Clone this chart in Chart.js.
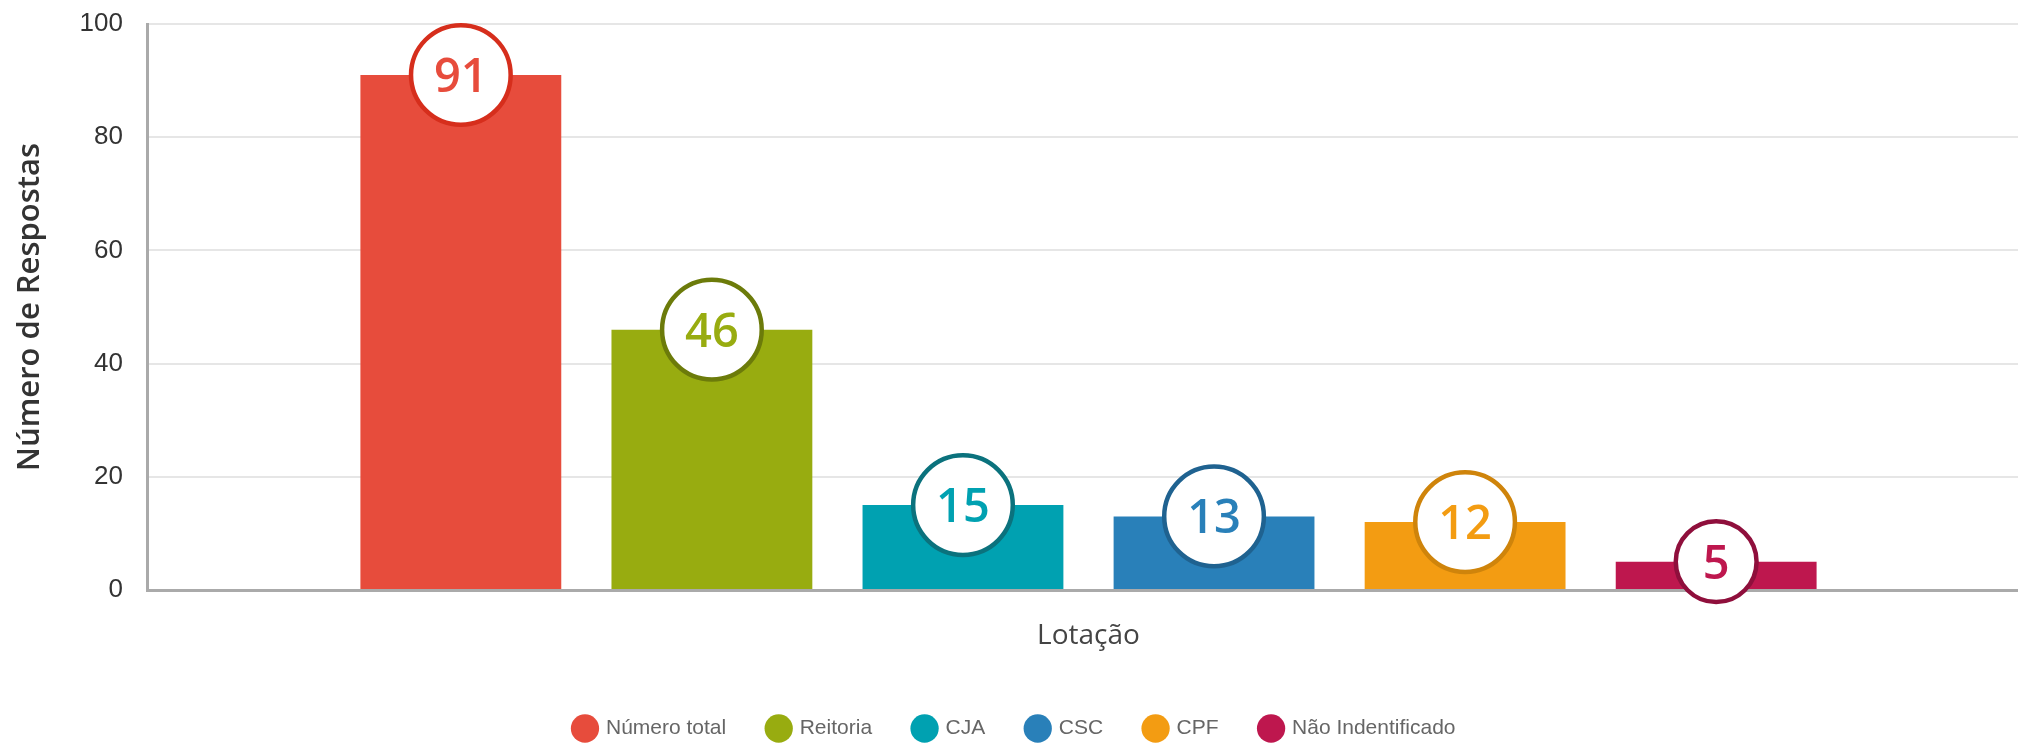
<!DOCTYPE html>
<html lang="pt">
<head>
<meta charset="utf-8">
<title>Número de Respostas por Lotação</title>
<script src="https://cdn.jsdelivr.net/npm/chart.js@4/dist/chart.umd.min.js"></script>
<style>
  html, body { margin: 0; padding: 0; background: #fff; overflow: hidden; }
  #wrap { width: 2018px; height: 743px; overflow: hidden; }
</style>
</head>
<body>
<div id="wrap">
  <canvas id="lotacao" width="2030" height="749"></canvas>
</div>
<script>
// respostas por lotação
const categorias = [''];
const lotacoes = ['Número total', 'Reitoria', 'CJA', 'CSC', 'CPF', 'Não Indentificado'];
const respostas = [91, 46, 15, 13, 12, 5];
const yTicks = [0, 20, 40, 60, 80, 100];

const corBarra = ['#e74c3c', '#98ac10', '#00a1b1', '#2980b9', '#f39c12', '#be174e'];
const corBorda = ['#d62e1c', '#6c7b0a', '#0b727d', '#1f6290', '#cf840b', '#8f0f3c'];

// white badge with the value, sitting on top of each bar
const valueBadges = {
  id: 'valueBadges',
  afterDatasetsDraw(chart) {
    const ctx = chart.ctx;
    ctx.save();
    ctx.font = '600 47px "Open Sans", sans-serif';
    chart.data.datasets.forEach((ds, i) => {
      const meta = chart.getDatasetMeta(i);
      if (meta.hidden) return;
      const bar = meta.data[0];
      const txt = String(ds.data[0]);
      const w = ctx.measureText(txt).width;
      const r = 31 + 0.7 * w / 2;
      ctx.beginPath();
      ctx.arc(bar.x, bar.y, r, 0, Math.PI * 2);
      ctx.fillStyle = '#fff';
      ctx.fill();
      ctx.lineWidth = 4.5;
      ctx.strokeStyle = corBorda[i];
      ctx.stroke();
      ctx.fillStyle = corBarra[i];
      ctx.textAlign = 'center';
      ctx.textBaseline = 'alphabetic';
      ctx.fillText(txt, bar.x, bar.y + 17);
    });
    ctx.restore();
  }
};

new Chart(document.getElementById('lotacao'), {
  type: 'bar',
  data: {
    labels: categorias,
    datasets: lotacoes.map((nome, i) => ({
      label: nome,
      data: [respostas[i]],
      backgroundColor: corBarra[i],
      hoverBackgroundColor: corBarra[i],
      borderWidth: 0,
      barPercentage: 0.8,
      categoryPercentage: 0.8
    }))
  },
  options: {
    responsive: false,
    animation: false,
    layout: { padding: { top: 24, right: 0, left: 0, bottom: 0 } },
    plugins: {
      tooltip: { enabled: false },
      legend: {
        position: 'bottom',
        labels: {
          usePointStyle: true,
          pointStyle: 'circle',
          boxHeight: 20,
          padding: 42,
          color: '#666',
          font: { family: '"Liberation Sans", sans-serif', size: 21 }
        }
      }
    },
    scales: {
      x: {
        grid: { display: false, drawTicks: false },
        border: { display: true, color: '#aaa', width: 3 },
        ticks: { display: false },
        title: {
          display: true,
          text: 'Lotação',
          color: '#444',
          font: { family: '"Open Sans", sans-serif', size: 28 },
          padding: { top: 0, bottom: 23 }
        },
        afterFit(scale) { scale.height = 86; }
      },
      y: {
        min: 0,
        max: 100,
        afterBuildTicks(scale) { scale.ticks = yTicks.map(v => ({ value: v })); },
        grid: { color: '#e6e6e6', lineWidth: 2, drawTicks: false },
        border: { display: true, color: '#aaa', width: 3 },
        ticks: {
          padding: 24,
          color: '#333',
          font: { family: '"Liberation Sans", sans-serif', size: 26 }
        },
        title: {
          display: true,
          text: 'Número de Respostas',
          color: '#333',
          font: { family: '"Open Sans", sans-serif', size: 31, weight: '600' },
          padding: { top: 12, bottom: 33 }
        },
        afterFit(scale) {
          scale.width = 147;
          // tick padding should not push the plot area down
          scale.paddingTop = 0;
          scale.paddingBottom = 0;
        }
      }
    }
  },
  plugins: [valueBadges]
});
</script>
</body>
</html>
